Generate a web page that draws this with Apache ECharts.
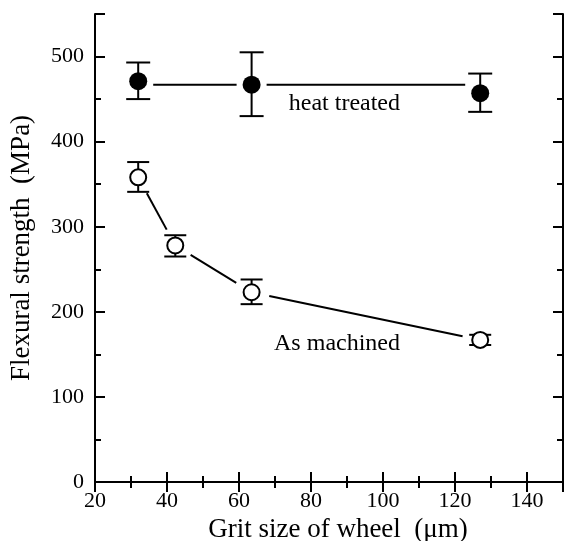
<!DOCTYPE html>
<html><head><meta charset="utf-8">
<script src="https://cdn.jsdelivr.net/npm/echarts/dist/echarts.min.js"></script>
<style>html,body{margin:0;padding:0;background:#fff}#c{width:565px;height:541px}</style>
</head><body><div id="c"></div>
<script>
// ---- data ----
const heatX  = [32, 63.5, 127];
const heatY  = [471, 467, 457];
const heatHi = [493, 505, 480];
const heatLo = [450, 430, 435];
const heatLineY = 467;           // horizontal guide line through "heat treated"
const machX  = [32, 42.3, 63.5, 127];
const machY  = [358, 278, 223, 167];
const machHi = [376, 290, 238, 173];
const machLo = [341, 265, 209, 161];
const xTickLabels = [20, 40, 60, 80, 100, 120, 140];
const yTickLabels = [0, 100, 200, 300, 400, 500];
const xTitle = 'Grit size of wheel  (\u03bcm)';
const yTitle = 'Flexural strength  (MPa)';
const labelHeat = 'heat treated';
const labelMach = 'As machined';

const FONT = '"Liberation Serif", "Times New Roman", serif';
const BLACK = '#000';

function segs(xs, ys) {
  const out = [];
  for (let i = 1; i < xs.length; i++) out.push([xs[i-1], ys[i-1], xs[i], ys[i]]);
  return out;
}
function gapLine(gap) {
  return function (params, api) {
    const a = api.coord([api.value(0), api.value(1)]);
    const b = api.coord([api.value(2), api.value(3)]);
    const dx = b[0] - a[0], dy = b[1] - a[1];
    const L = Math.sqrt(dx*dx + dy*dy);
    const ux = dx / L, uy = dy / L;
    return {type: 'line', shape: {x1: a[0] + ux*gap, y1: a[1] + uy*gap, x2: b[0] - ux*gap, y2: b[1] - uy*gap},
            style: {stroke: BLACK, lineWidth: 2}};
  };
}
function errBar(capW) {
  return function (params, api) {
    const x = api.value(0);
    const lo = api.coord([x, api.value(1)]);
    const hi = api.coord([x, api.value(2)]);
    const h = capW / 2;
    const st = {stroke: BLACK, lineWidth: 2};
    return {type: 'group', children: [
      {type: 'line', shape: {x1: lo[0], y1: lo[1], x2: hi[0], y2: hi[1]}, style: st},
      {type: 'line', shape: {x1: lo[0]-h, y1: lo[1], x2: lo[0]+h, y2: lo[1]}, style: st},
      {type: 'line', shape: {x1: hi[0]-h, y1: hi[1], x2: hi[0]+h, y2: hi[1]}, style: st}
    ]};
  };
}

const lineSt = {color: BLACK, width: 2};
function xAx(pos, interval, len, labels, axisLineShow, extra) {
  return Object.assign({
    type: 'value', min: 20, max: 150, interval: interval, position: pos,
    axisLine: {show: axisLineShow, lineStyle: lineSt},
    axisTick: {show: true, inside: true, length: len, lineStyle: lineSt},
    axisLabel: labels ? {show: true, formatter: v => xTickLabels.indexOf(v) >= 0 ? String(v) : '',
      fontFamily: FONT, fontSize: 22, color: BLACK, margin: 8, showMaxLabel: true} : {show: false},
    splitLine: {show: false}
  }, extra || {});
}
function yAx(pos, interval, len, labels, axisLineShow, extra) {
  return Object.assign({
    type: 'value', min: 0, max: 550, interval: interval, position: pos,
    axisLine: {show: axisLineShow, lineStyle: lineSt},
    axisTick: {show: true, inside: true, length: len, lineStyle: lineSt},
    axisLabel: labels ? {show: true, formatter: v => yTickLabels.indexOf(v) >= 0 ? String(v) : '',
      fontFamily: FONT, fontSize: 22, color: BLACK, margin: 11} : {show: false},
    splitLine: {show: false}
  }, extra || {});
}

const chart = echarts.init(document.getElementById('c'), null, {renderer: 'canvas'});
chart.setOption({
  backgroundColor: '#fff',
  animation: false,
  grid: {left: 95, right: 2, top: 14, bottom: 59, containLabel: false, outerBoundsMode: 'none'},
  xAxis: [
    xAx('bottom', 20, 10, true, true, {name: xTitle, nameLocation: 'middle', nameGap: 28,
      nameTextStyle: {fontFamily: FONT, fontSize: 27, color: BLACK, padding: [0, 0, 0, 18]}}),
    xAx('bottom', 10, 6, false, false),
    xAx('top', 20, 10, false, true),
    xAx('top', 10, 6, false, false)
  ],
  yAxis: [
    yAx('left', 100, 10, true, true, {name: yTitle, nameLocation: 'middle', nameGap: 60, nameRotate: 90,
      nameTextStyle: {fontFamily: FONT, fontSize: 27, color: BLACK}}),
    yAx('left', 50, 6, false, false),
    yAx('right', 100, 10, false, true),
    yAx('right', 50, 6, false, false)
  ],
  series: [
    {type: 'custom', z: 2, silent: true, renderItem: gapLine(15),
     data: segs(heatX, heatX.map(() => heatLineY)), encode: {x: [0, 2], y: [1, 3]}},
    {type: 'custom', z: 2, silent: true, renderItem: gapLine(18),
     data: segs(machX, machY), encode: {x: [0, 2], y: [1, 3]}},
    {type: 'custom', z: 3, silent: true, renderItem: errBar(24),
     data: heatX.map((x, i) => [x, heatLo[i], heatHi[i]]), encode: {x: 0, y: [1, 2]}},
    {type: 'custom', z: 3, silent: true, renderItem: errBar(22),
     data: machX.map((x, i) => [x, machLo[i], machHi[i]]), encode: {x: 0, y: [1, 2]}},
    {type: 'scatter', z: 4, silent: true, symbol: 'circle', symbolSize: 18,
     itemStyle: {color: BLACK, opacity: 1},
     data: heatX.map((x, i) => [x, heatY[i]])},
    {type: 'scatter', z: 4, silent: true, symbol: 'circle', symbolSize: 16,
     itemStyle: {color: '#fff', borderColor: BLACK, borderWidth: 2, opacity: 1},
     data: machX.map((x, i) => [x, machY[i]])}
  ],
  graphic: [
    {type: 'text', x: 400, y: 104, silent: true,
     style: {text: labelHeat, font: '24px ' + FONT, fill: BLACK, align: 'right', verticalAlign: 'middle'}},
    {type: 'text', x: 400, y: 344, silent: true,
     style: {text: labelMach, font: '24px ' + FONT, fill: BLACK, align: 'right', verticalAlign: 'middle'}}
  ]
});
</script></body></html>
